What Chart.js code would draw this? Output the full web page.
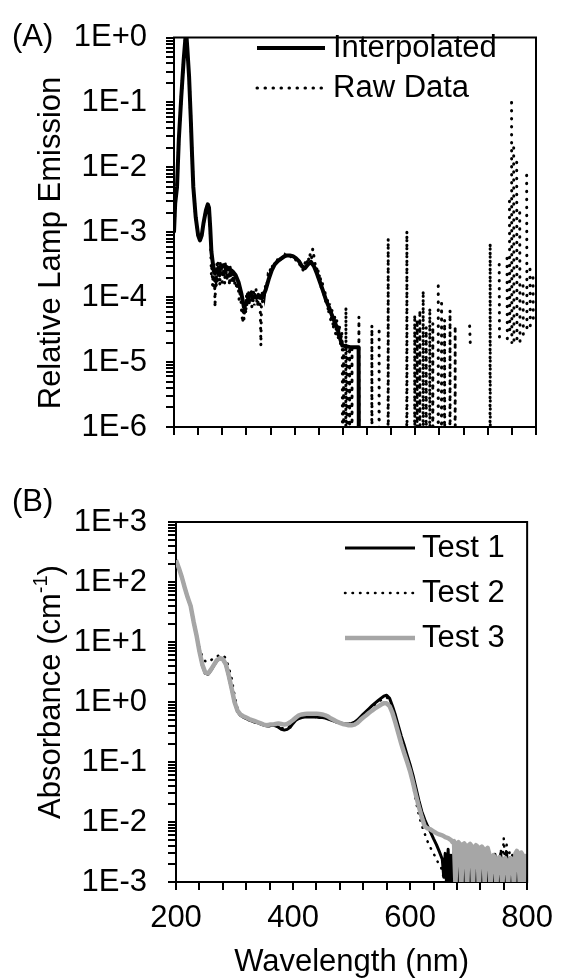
<!DOCTYPE html>
<html><head><meta charset="utf-8">
<script src="https://cdn.jsdelivr.net/npm/chart.js@4.4.1/dist/chart.umd.min.js"></script>
<style>
html,body{margin:0;padding:0;background:#fff;overflow:hidden;width:563px;height:978px;}
.wrap{position:absolute;left:0;width:563px;}
#wa{top:0;height:470px;}
#wb{top:480px;height:501px;}
canvas{display:block;}
</style></head><body>
<div class="wrap" id="wa"><canvas id="ca" width="563" height="470"></canvas></div>
<div class="wrap" id="wb"><canvas id="cb" width="563" height="501"></canvas></div>
<script>
// ---------- Panel A data ----------
const interpNm = [200,202,205,208,212,216,220,222,225,228,
  230,232,236,240,243,246,249,253,256,258,
  260,262,265,268,272,277,282,287,292,297,
  302,307,312,316,320,324,328,332,337,342,
  347,352,357,362,367,372,377,382,387,392,
  397,402,407,412,417,422,427,432,437,442,
  447,452,457,462,467,472,476,479,492,506,
  507];
const interpVal = [1.0e-3,2.8e-3,5e-3,0.027,0.12,0.45,1.3,0.7,0.25,0.05,
  0.015,0.005,0.0017,9e-4,7.5e-4,9e-4,1.4e-3,2.2e-3,2.7e-3,2.4e-3,
  1.2e-3,5e-4,3e-4,2.3e-4,2.6e-4,2.8e-4,3.1e-4,2.9e-4,2.7e-4,2.5e-4,
  2.2e-4,1.7e-4,1.1e-4,7e-5,8e-5,1.0e-4,1.1e-4,1.0e-4,1.0e-4,1.05e-4,
  1.0e-4,1.3e-4,1.9e-4,2.6e-4,3.2e-4,3.6e-4,3.9e-4,4.2e-4,4.4e-4,4.4e-4,
  4.3e-4,4.0e-4,3.6e-4,3.0e-4,2.8e-4,3.2e-4,3.5e-4,3.0e-4,2.3e-4,1.7e-4,
  1.25e-4,9e-5,7e-5,5.2e-5,4e-5,3e-5,2.2e-5,1.8e-5,1.7e-5,1.7e-5,
  1e-9];

const rawNm = [200,202,205,208,212,216,220,222,225,228,
  230,232,236,240,243,246,249,253,256,258,
  260,261,262,263,264,265,266,267,268,269,
  270,271,272,273,274,275,276,277,278,279,
  280,281,282,283,284,285,286,287,288,289,
  290,291,292,293,294,295,296,297,298,299,
  300,302,304,306,308,310,312,314,315,316,
  318,319,320,321,322,323,324,325,326,327,
  328,329,330,331,332,333,334,335,336,337,
  338,339,340,341,342,343,344,345,346,347,
  348,349,350,352,354,356,358,360,362,364,
  366,368,370,372,374,376,378,380,382,384,
  386,388,390,392,394,396,398,400,402,404,
  406,408,410,412,414,416,418,420,422,424,
  426,428,430,432,434,436,438,440,442,444,
  446,448,450,452,454,456,458,460,462,464,
  466,468,470,472,474,476,478,479,479.5,481,
  481.5,484.5,485,485.5,486.5,487,487.5,490.5,491,491.5,
  494.5,495,495.5,506,506.5,507,527.5,528,528.5,539.5,
  540,540.5,554.5,555,555.5,585.5,586,586.5,598.5,599,
  599.5,602.5,603,603.5,607,607.5,608,612.5,613,613.5,
  617.5,618,618.5,623.5,624,624.5,628.5,629,629.5,637.5,
  638,638.5,643,643.5,644,648,648.5,649,657,657.5,
  658,665.5,666,666.5,689.5,690,691,691.5,723.5,724,
  724.5,738.5,739,739.5,740,751.5,752,752.5,753,755.5,
  756,756.5,757,759,759.5,760,760.5,762.5,763,763.5,
  764,767.5,768,768.5,769,772.5,773,773.5,774,778,
  778.5,779,779.5,784,784.5,785,785.5,789.5,790,790.5,
  791,794.5,795,795.5,796,799.5,800];
const rawVal = [1.0e-3,2.8e-3,5e-3,0.027,0.12,0.45,1.3,0.7,0.25,0.05,
  0.015,0.005,0.0017,9e-4,7.5e-4,9e-4,1.4e-3,2.2e-3,2.7e-3,2.4e-3,
  1.2e-3,5e-4,2.2e-4,3.2e-4,1.5e-4,2.6e-4,1.3e-4,2.9e-4,7e-5,2.1e-4,
  1.4e-4,3.4e-4,1.6e-4,3.6e-4,2.0e-4,3.0e-4,1.5e-4,3.7e-4,2.2e-4,3.3e-4,
  1.7e-4,3.5e-4,2.4e-4,3.1e-4,1.6e-4,3.4e-4,2.1e-4,2.9e-4,1.8e-4,3.2e-4,
  2.0e-4,2.8e-4,1.5e-4,3.0e-4,1.9e-4,2.7e-4,1.6e-4,2.5e-4,1.8e-4,2.3e-4,
  1.5e-4,2.1e-4,1.3e-4,1.8e-4,9e-5,1.3e-4,6e-5,4e-5,7e-5,4.5e-5,
  9e-5,5.5e-5,1.1e-4,7e-5,1.2e-4,8e-5,1.3e-4,7.5e-5,1.2e-4,8.5e-5,
  1.3e-4,7e-5,1.1e-4,8e-5,1.25e-4,7.5e-5,1.2e-4,9e-5,1.3e-4,8e-5,
  1.1e-4,7e-5,1.2e-4,8.5e-5,1.0e-4,6.5e-5,1.8e-5,9e-5,1.2e-4,7.5e-5,
  1.1e-4,1.3e-4,1.1e-4,1.6e-4,1.5e-4,2.2e-4,2.1e-4,2.8e-4,2.6e-4,3.3e-4,
  3.0e-4,3.6e-4,3.4e-4,3.9e-4,3.7e-4,4.1e-4,3.9e-4,4.3e-4,4.1e-4,4.5e-4,
  4.3e-4,4.5e-4,4.3e-4,4.4e-4,4.2e-4,4.3e-4,4.0e-4,4.1e-4,3.7e-4,3.8e-4,
  3.4e-4,3.3e-4,2.9e-4,3.0e-4,2.6e-4,3.0e-4,3.6e-4,3.2e-4,4.2e-4,3.6e-4,
  4.8e-4,4.0e-4,5.6e-4,4.2e-4,3.2e-4,2.6e-4,3.0e-4,2.0e-4,2.3e-4,1.4e-4,
  1.7e-4,1.0e-4,1.3e-4,7.5e-5,1.0e-4,5.5e-5,8e-5,4e-5,6.5e-5,3.2e-5,
  5.5e-5,2.6e-5,4.5e-5,2.2e-5,3.8e-5,1.9e-5,3.0e-5,1.7e-5,1e-9,1.6e-5,
  1e-9,1e-9,7e-5,1e-9,1e-9,1.5e-5,1e-9,1e-9,1.7e-5,1e-9,
  1e-9,1.6e-5,1e-9,1e-9,5e-5,1e-9,1e-9,3.7e-5,1e-9,1e-9,
  3.4e-5,1e-9,1e-9,8e-4,1e-9,1e-9,1.05e-3,1e-9,1e-9,5.4e-5,
  1e-9,1e-9,4.5e-5,1e-9,1e-9,6.3e-5,1e-9,1e-9,1.26e-4,1e-9,
  1e-9,3.5e-5,1e-9,1e-9,6.8e-5,1e-9,1e-9,4e-5,1e-9,1e-9,
  1.7e-4,1e-9,1e-9,8e-5,1e-9,1e-9,4.5e-5,1e-9,1e-9,6.3e-5,
  1e-9,1e-9,3.6e-5,1e-9,null,3.6e-5,2e-5,null,1e-9,6.8e-4,
  1e-9,null,3.2e-4,2e-5,null,null,4e-4,1.8e-5,null,null,
  3e-3,2.5e-5,null,null,0.1,2e-5,null,null,2e-2,1.8e-5,
  null,null,1.2e-2,1.8e-5,null,null,2e-3,2e-5,null,null,
  1.5e-4,2.2e-5,null,null,7.6e-3,2.9e-5,null,null,2.7e-4,3.6e-5,
  null,null,2e-4,4e-5,null,null,1e-2];

// ---------- Panel B data ----------
const nmB = [200,205,210,215,220,225,230,235,240,245,
  250,255,260,265,270,275,280,285,290,295,
  300,305,310,315,320,325,330,335,340,345,
  350,355,360,365,370,375,380,385,390,395,
  400,405,410,415,420,425,430,435,440,445,
  450,455,460,465,470,475,480,485,490,495,
  500,505,510,515,520,525,530,535,540,545,
  550,555,560,565,570,575,580,585,590,595,
  600,605,610,615,620,625,630,635,640,645,
  650,655,657.5,660,662.5,665,667.5,670,672.5,675,
  677.5,680,682.5,685,687.5,690,692.5,695,697.5,700,
  702.5,705,707.5,710,712.5,715,717.5,720,722.5,725,
  727.5,730,732.5,735,737.5,740,742.5,745,747.5,750,
  752.5,755,757.5,760,762.5,765,767.5,770,772.5,775,
  777.5,780,782.5,785,787.5,790,792.5,795,797.5,800];
const test1 = [230,170,120,80,55,40,22,13,7,4.1,
  3.0,2.9,3.4,4.1,4.9,5.3,5.1,4.2,2.7,1.65,
  1.0,0.7,0.6,0.56,0.53,0.5,0.48,0.46,0.45,0.43,
  0.41,0.4,0.4,0.41,0.4,0.38,0.35,0.34,0.35,0.38,
  0.44,0.5,0.53,0.55,0.56,0.56,0.56,0.56,0.56,0.55,
  0.55,0.54,0.52,0.5,0.48,0.46,0.45,0.44,0.43,0.43,
  0.44,0.46,0.5,0.56,0.63,0.7,0.78,0.87,0.96,1.05,
  1.15,1.25,1.3,1.15,0.85,0.6,0.4,0.27,0.19,0.13,
  0.09,0.06,0.037,0.023,0.015,0.011,0.0085,0.0068,0.0053,0.0042,
  0.0032,0.0024,0.0012,0.0030,0.0008,0.0035,0.0009,0.0028,0.0007,0.0032,
  0.0010,0.0025,0.0008,0.0030,0.0007,0.0022,0.0009,0.0027,0.0006,0.0020,
  0.0008,0.0026,0.0007,0.0018,0.0009,0.0024,0.0006,0.0021,0.0008,0.0019,
  0.0007,0.0025,0.0009,0.0017,0.0006,0.0022,0.0008,0.0029,0.0007,0.0024,
  0.0009,0.0030,0.0006,0.0023,0.0008,0.0031,0.0007,0.0019,0.0009,0.0028,
  0.0006,0.0025,0.0008,0.0020,0.0007,0.0030,0.0009,0.0021,0.0006,0.0027];
const test2 = [230,170,120,80,55,40,22,13,8,5.8,
  4.8,4.6,5.0,5.4,5.8,6.0,6.0,5.4,3.8,2.5,
  1.3,0.8,0.63,0.57,0.54,0.51,0.49,0.47,0.45,0.43,
  0.41,0.4,0.41,0.41,0.41,0.39,0.37,0.36,0.37,0.4,
  0.46,0.52,0.55,0.57,0.57,0.57,0.57,0.57,0.56,0.56,
  0.55,0.54,0.52,0.5,0.48,0.46,0.44,0.43,0.42,0.42,
  0.43,0.45,0.49,0.54,0.6,0.67,0.74,0.82,0.9,0.98,
  1.07,1.15,1.2,1.05,0.78,0.55,0.36,0.24,0.16,0.11,
  0.072,0.042,0.022,0.013,0.0088,0.0064,0.0047,0.0037,0.003,0.0024,
  0.0019,0.0016,0.0011,0.0015,0.0008,0.0013,0.0009,0.0012,0.0007,0.0011,
  0.0008,0.0012,0.0007,0.0010,0.0008,0.0011,0.0007,0.0009,0.0008,0.0011,
  0.0007,0.0010,0.0008,0.0012,0.0007,0.0009,0.0008,0.0011,0.0007,0.0010,
  0.0008,0.0012,0.0007,0.0011,0.0009,0.0014,0.0008,0.0018,0.0011,0.0025,
  0.0014,0.0035,0.0018,0.0054,0.0020,0.0042,0.0015,0.0032,0.0012,0.0028,
  0.0011,0.0022,0.0010,0.0026,0.0012,0.0019,0.0010,0.0023,0.0012,0.0017];
const test3 = [230,170,120,80,55,40,22,13,7,4.2,
  3.1,3.0,3.5,4.2,5.0,5.4,5.2,4.3,2.8,1.7,
  1.0,0.72,0.62,0.58,0.55,0.52,0.5,0.48,0.46,0.44,
  0.42,0.41,0.42,0.42,0.43,0.44,0.43,0.42,0.43,0.46,
  0.5,0.55,0.6,0.62,0.63,0.64,0.64,0.64,0.64,0.63,
  0.62,0.6,0.57,0.53,0.5,0.47,0.45,0.43,0.42,0.41,
  0.41,0.42,0.45,0.5,0.55,0.6,0.66,0.72,0.78,0.84,
  0.9,0.95,0.95,0.85,0.65,0.45,0.3,0.2,0.14,0.1,
  0.07,0.045,0.028,0.018,0.012,0.0085,0.0078,0.0075,0.007,0.0065,
  0.0062,0.0060,0.0058,0.0056,0.0055,0.0054,0.0052,0.0050,0.0046,0.0048,
  0.0009,0.0044,0.0046,0.0043,0.0008,0.0042,0.0044,0.0040,0.0008,0.0041,
  0.0043,0.0040,0.0009,0.0038,0.0041,0.0039,0.0008,0.0037,0.0039,0.0036,
  0.0009,0.0035,0.0037,0.0030,0.0008,0.0026,0.0028,0.0025,0.0009,0.0024,
  0.0026,0.0023,0.0008,0.0024,0.0025,0.0022,0.0009,0.0023,0.0025,0.0022,
  0.0008,0.0030,0.0033,0.0029,0.0009,0.0031,0.0028,0.0010,0.0027,0.0025];

// ---------- ticks ----------
const xTicks = [200,240,280,320,360,400,440,480,520,560,600,640,680,720,760,800];
const xLabelVals = [200,400,600,800];
const xLabels = ['200','400','600','800'];
const yMajorA = [1e-6,1e-5,1e-4,1e-3,1e-2,1e-1,1];
const yLabelsA = ['1E-6','1E-5','1E-4','1E-3','1E-2','1E-1','1E+0'];
const yMajorB = [1e-3,1e-2,1e-1,1,10,100,1000];
const yLabelsB = ['1E-3','1E-2','1E-1','1E+0','1E+1','1E+2','1E+3'];

const FF = '"Liberation Sans", Arial, Helvetica, sans-serif';
const FS = 31;
Chart.defaults.font.family = FF;
Chart.defaults.font.size = FS;
Chart.defaults.color = '#000';

function pts(xs, ys) { return xs.map((x, i) => ({x: x, y: ys[i]})); }
function logTickList(majors, labels) {
  const t = [];
  majors.forEach((m, i) => {
    t.push({value: m, lbl: labels[i]});
    if (i < majors.length - 1) for (let k = 2; k <= 9; k++) t.push({value: m * k, lbl: ''});
  });
  return t;
}
function xTickList(withLabels) {
  return xTicks.map(v => {
    const j = xLabelVals.indexOf(v);
    return {value: v, lbl: (withLabels && j >= 0) ? xLabels[j] : ''};
  });
}
const gridOpts = {display: true, drawOnChartArea: false, drawTicks: true, tickLength: 8, color: '#000', lineWidth: 2};
const borderOpts = {display: true, color: '#000', width: 2};

const decor = {
  id: 'decor',
  afterDraw(chart, args, o) {
    const ctx = chart.ctx, a = chart.chartArea;
    ctx.save();
    ctx.strokeStyle = '#000'; ctx.lineWidth = 2;
    ctx.beginPath();
    ctx.moveTo(a.left - 1, a.top); ctx.lineTo(a.right, a.top); ctx.lineTo(a.right, a.bottom + 1);
    ctx.stroke();
    ctx.fillStyle = '#000';
    ctx.font = FS + 'px ' + FF;
    ctx.textBaseline = 'middle'; ctx.textAlign = 'left';
    ctx.fillText(o.panel, o.panelX, a.top + o.panelDy);
    chart.data.datasets.forEach((ds, i) => {
      const y = o.legY + i * o.legDy;
      ctx.save();
      ctx.strokeStyle = ds.borderColor; ctx.lineWidth = ds.borderWidth;
      ctx.setLineDash(ds.borderDash || []);
      ctx.lineCap = ds.borderDash ? 'round' : 'butt';
      ctx.beginPath(); ctx.moveTo(o.legX0, y); ctx.lineTo(o.legX1, y); ctx.stroke();
      ctx.restore();
      ctx.font = FS + 'px ' + FF;
      ctx.fillText(ds.label, o.legTextX, y);
    });
    let total = 0;
    o.yTitle.forEach(p => { ctx.font = (p.sup ? 20 : FS) + 'px ' + FF; p.w = ctx.measureText(p.t).width; total += p.w; });
    ctx.translate(o.yTitleX, o.yTitleY + total / 2);
    ctx.rotate(-Math.PI / 2);
    let x = 0;
    o.yTitle.forEach(p => { ctx.font = (p.sup ? 20 : FS) + 'px ' + FF; ctx.fillText(p.t, x, p.sup ? -10 : 0); x += p.w; });
    ctx.restore();
  }
};

// ---------- Chart A ----------
new Chart(document.getElementById('ca'), {
  type: 'line',
  data: {datasets: [
    {label: 'Interpolated', data: pts(interpNm, interpVal), borderColor: '#000', borderWidth: 4,
     pointRadius: 0, tension: 0, borderJoinStyle: 'round', order: 1},
    {label: 'Raw Data', data: pts(rawNm, rawVal), borderColor: '#000', borderWidth: 3,
     borderDash: [0.5, 7.5], borderCapStyle: 'round', pointRadius: 0, tension: 0, order: 0}
  ]},
  options: {
    responsive: false, animation: false, devicePixelRatio: 1,
    layout: {padding: {top: 27, right: 27, left: 0, bottom: 0}},
    plugins: {legend: {display: false}, tooltip: {enabled: false},
      decor: {panel: '(A)', panelX: 12, panelDy: 0, legX0: 257, legX1: 325, legTextX: 333, legY: 48, legDy: 40,
        yTitle: [{t: 'Relative Lamp Emission'}], yTitleX: 51, yTitleY: 243}},
    scales: {
      x: {type: 'linear', min: 200, max: 800, grid: gridOpts, border: borderOpts,
        afterBuildTicks: s => { s.ticks = xTickList(false); },
        afterFit: s => { s.height = 43; },
        ticks: {autoSkip: false, maxRotation: 0, callback: (v, i, t) => t[i].lbl}},
      y: {type: 'logarithmic', min: 1e-6, max: 1, grid: gridOpts, border: borderOpts,
        afterBuildTicks: s => { s.ticks = logTickList(yMajorA, yLabelsA); },
        afterFit: s => { s.width = 174; },
        ticks: {autoSkip: false, padding: 19, callback: (v, i, t) => t[i].lbl}}
    }
  },
  plugins: [decor]
});

// ---------- Chart B ----------
new Chart(document.getElementById('cb'), {
  type: 'line',
  data: {datasets: [
    {label: 'Test 1', data: pts(nmB, test1), borderColor: '#000', borderWidth: 3,
     pointRadius: 0, tension: 0, borderJoinStyle: 'round', order: 2},
    {label: 'Test 2', data: pts(nmB, test2), borderColor: '#000', borderWidth: 2.5,
     borderDash: [0.5, 7], borderCapStyle: 'round', pointRadius: 0, tension: 0, order: 1},
    {label: 'Test 3', data: pts(nmB, test3), borderColor: '#a6a6a6', borderWidth: 4.5,
     pointRadius: 0, tension: 0, borderJoinStyle: 'round', order: 0}
  ]},
  options: {
    responsive: false, animation: false, devicePixelRatio: 1,
    layout: {padding: {top: 42, right: 28, left: 0, bottom: 0}},
    plugins: {legend: {display: false}, tooltip: {enabled: false},
      decor: {panel: '(B)', panelX: 12, panelDy: -20, legX0: 345, legX1: 415, legTextX: 422, legY: 68, legDy: 45,
        yTitle: [{t: 'Absorbance (cm'}, {t: '-1', sup: true}, {t: ')'}], yTitleX: 51, yTitleY: 212}},
    scales: {
      x: {type: 'linear', min: 200, max: 800, grid: gridOpts, border: borderOpts,
        afterBuildTicks: s => { s.ticks = xTickList(true); },
        afterFit: s => { s.height = 99; },
        ticks: {autoSkip: false, maxRotation: 0, padding: 10, callback: (v, i, t) => t[i].lbl},
        title: {display: true, text: 'Wavelength (nm)', color: '#000', font: {size: FS}, padding: {top: 0, bottom: 0}}},
      y: {type: 'logarithmic', min: 1e-3, max: 1000, grid: gridOpts, border: borderOpts,
        afterBuildTicks: s => { s.ticks = logTickList(yMajorB, yLabelsB); },
        afterFit: s => { s.width = 176; },
        ticks: {autoSkip: false, padding: 21, callback: (v, i, t) => t[i].lbl}}
    }
  },
  plugins: [decor]
});
</script>
</body></html>
